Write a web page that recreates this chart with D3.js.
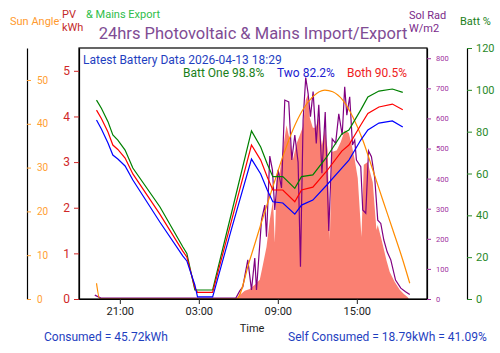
<!DOCTYPE html>
<html>
<head>
<meta charset="utf-8">
<script src="https://cdn.jsdelivr.net/npm/d3@7"></script>
<style>
  body { margin: 0; background: #fff; }
  svg { font-family: Roboto, "Noto Sans", sans-serif; }
</style>
</head>
<body>
<div id="chart-pv"></div>
<script>
// hours counted from 2026-04-12 00:00
var timeTicks = [21, 27, 33, 39];
var timeTickLabels = ["21:00", "03:00", "09:00", "15:00"];
var kwhTicks = [0, 1, 2, 3, 4, 5];
var sunTicks = [0, 10, 20, 30, 40, 50];
var solTicks = [0, 100, 200, 300, 400, 500, 600, 700, 800];
var battTicks = [0, 20, 40, 60, 80, 100, 120];

var battHours = [19.23, 19.6, 20.1, 20.47, 20.85, 21.4, 21.99, 24.04, 25.78, 26.09, 26.7, 26.9, 28.05, 29.5, 31.0,
  31.7, 32.2, 32.62, 33.38, 34.29, 34.8, 35.66, 36.72, 37.86, 38.4, 39.3, 39.84, 40.68, 41.7, 42.49];
var battOne = [95.1, 91.2, 84.8, 78.4, 76.0, 71.2, 62.6, 44.1, 25.0, 21.8, 4.3, 4.3, 4.3, 41.6, 80.4,
  72.7, 64.5, 58.5, 58.5, 52.9, 58.5, 59.3, 67.9, 78.9, 80.8, 90.4, 96.6, 99.4, 100.4, 98.8];
var battTwo = [85.6, 81.3, 74.6, 68.8, 66.9, 63.6, 56.9, 36.8, 20.6, 18.2, 6.7, 1.0, 1.0, 33.9, 66.9,
  59.8, 52.1, 46.5, 45.9, 40.6, 44.9, 47.3, 54.5, 62.6, 66.4, 76.0, 80.8, 84.1, 85.1, 82.2];
var battBoth = [90.3, 86.3, 79.8, 73.6, 71.5, 67.4, 59.8, 40.6, 22.9, 20.1, 5.3, 3.2, 3.2, 37.8, 73.6,
  66.4, 58.3, 52.1, 52.1, 46.5, 52.1, 53.5, 61.2, 70.7, 73.6, 83.2, 88.7, 91.8, 93.2, 90.5];

var sunHours = [19.23, 19.48, 29.86, 30.87, 31.86, 32.62, 33.38, 34.14, 34.9, 35.66, 36.57, 37.17, 37.93,
  38.69, 39.45, 40.21, 40.97, 41.73, 42.49, 43.02];
var sunAngle = [3.6, 0, 0, 8.9, 18.5, 25.6, 32.5, 38.6, 43.2, 46.2, 47.7, 47.3, 45.4,
  41.6, 36.3, 29.5, 22.6, 15.8, 8.9, 3.6];

var solHours = [19.10, 19.56, 29.81, 30.11, 30.34, 30.72, 31.0, 31.25, 31.38, 31.76, 32.01, 32.14, 32.39, 32.59,
  32.77, 33.02, 33.28, 33.53, 33.83, 34.06, 34.29, 34.54, 34.72, 34.92, 35.12, 35.30, 35.48, 35.68, 35.92, 36.11,
  36.35, 36.6, 36.87, 37.13, 37.39, 37.63, 37.89, 38.08, 38.24, 38.46, 38.67, 38.84, 38.97, 39.30, 39.45, 39.68,
  39.89, 40.11, 40.36, 40.59, 40.82, 41.05, 41.31, 41.58, 41.94, 42.34, 42.70, 43.02];
var solRad = [13, 3, 3, 27, 40, 130, 30, 136, 30, 262, 312, 207, 475, 429,
  296, 429, 369, 661, 655, 462, 545, 455, 107, 595, 736, 683, 606, 689, 517, 645,
  418, 621, 226, 532, 517, 615, 545, 705, 611, 672, 512, 528, 462, 440, 296, 285,
  492, 473, 402, 262, 251, 196, 156, 130, 63, 36, 24, 15];

var pvHours = [29.81, 30.11, 30.49, 30.87, 31.25, 31.63, 31.86, 32.14, 32.39, 32.64, 32.77, 32.92, 33.15, 33.38,
  33.66, 33.91, 34.14, 34.44, 34.67, 34.9, 35.12, 35.28, 35.43, 35.66, 35.88, 36.11, 36.34, 36.57, 36.79, 36.95,
  37.10, 37.48, 37.78, 38.08, 38.39, 38.62, 38.84, 39.07, 39.35, 39.53, 39.83, 40.06, 40.21, 40.49, 40.59, 40.89,
  41.25, 41.50, 41.88, 42.26, 42.57, 42.87, 42.95];
var pvKwh = [0, 0.09, 0.18, 0.22, 0.31, 0.42, 0.74, 1.14, 1.73, 2.17, 1.23, 2.61, 2.78, 3.26,
  3.81, 3.48, 3.05, 3.42, 3.59, 3.77, 4.36, 4.47, 3.97, 3.75, 3.75, 3.97, 3.37, 3.70, 3.26, 1.29,
  3.22, 3.26, 3.44, 3.70, 3.64, 3.37, 3.05, 2.65, 1.36, 2.94, 3.00, 2.72, 2.56, 1.51, 1.62, 1.29,
  0.85, 0.59, 0.37, 0.20, 0.11, 0.04, 0];

var width = 500, height = 353;
var margin = { top: 48, right: 73, bottom: 54, left: 79 };
var base = new Date(2026, 3, 12, 0, 0, 0).getTime();
function toDate(h) { return new Date(base + h * 3600000); }

var svg = d3.select("#chart-pv").append("svg")
  .attr("width", width)
  .attr("height", height);

var x = d3.scaleTime()
  .domain([toDate(17.9), toDate(44.33)])
  .range([margin.left, width - margin.right]);
var y0 = height - margin.bottom, y1 = margin.top;
var yKwh = d3.scaleLinear().domain([0, 5.5]).range([y0, y1]);
var ySun = d3.scaleLinear().domain([0, 57.3]).range([y0, y1]);
var ySol = d3.scaleLinear().domain([0, 834]).range([y0, y1]);
var yBatt = d3.scaleLinear().domain([0, 120]).range([y0, y1]);

function pairs(hs, vs) { return hs.map(function(h, i) { return [toDate(h), vs[i]]; }); }

// PV area
svg.append("path")
  .datum(pairs(pvHours, pvKwh))
  .attr("fill", "salmon")
  .attr("d", d3.area().x(function(d) { return x(d[0]); }).y0(y0).y1(function(d) { return yKwh(d[1]); }));

function drawLine(data, scale, color, curve) {
  svg.append("path")
    .datum(data)
    .attr("fill", "none")
    .attr("stroke", color)
    .attr("stroke-width", 1.2)
    .attr("d", d3.line().curve(curve || d3.curveLinear)
      .x(function(d) { return x(d[0]); })
      .y(function(d) { return scale(d[1]); }));
}

drawLine(pairs(solHours, solRad), ySol, "purple");
drawLine(pairs(sunHours, sunAngle), ySun, "darkorange", d3.curveMonotoneX);
drawLine(pairs(battHours, battOne), yBatt, "green");
drawLine(pairs(battHours, battBoth), yBatt, "red");
drawLine(pairs(battHours, battTwo), yBatt, "blue");

// plot frame
svg.append("rect")
  .attr("x", margin.left).attr("y", margin.top)
  .attr("width", width - margin.left - margin.right)
  .attr("height", height - margin.top - margin.bottom)
  .attr("fill", "none").attr("stroke", "#000").attr("stroke-width", 1.2);

function styleAxis(g, color, size) {
  g.select(".domain").attr("stroke", "#000").attr("stroke-width", 1.2);
  g.selectAll(".tick line").attr("stroke", color);
  g.selectAll(".tick text").attr("fill", color).style("font-size", size + "px")
    .style("font-family", "Roboto, sans-serif");
}

// time axis
svg.append("g")
  .attr("transform", "translate(0," + y0 + ")")
  .call(d3.axisBottom(x).tickValues(timeTicks.map(toDate)).tickSize(5).tickSizeOuter(0)
    .tickFormat(function(d, i) { return timeTickLabels[i]; }))
  .call(styleAxis, "#222", 11);

// kWh axis
svg.append("g")
  .attr("transform", "translate(" + margin.left + ",0)")
  .call(d3.axisLeft(yKwh).tickValues(kwhTicks).tickFormat(d3.format("d"))
    .tickSize(5).tickSizeOuter(0).tickPadding(4))
  .call(styleAxis, "#d02828", 12);

// sun angle axis
svg.append("g")
  .attr("transform", "translate(27,0)")
  .call(d3.axisRight(ySun).tickValues(sunTicks).tickSize(4).tickSizeOuter(0).tickPadding(6))
  .call(styleAxis, "#ffa033", 10);

// solar radiation axis
svg.append("g")
  .attr("transform", "translate(" + (width - margin.right) + ",0)")
  .call(d3.axisRight(ySol).tickValues(solTicks).tickSize(4).tickSizeOuter(0).tickPadding(5))
  .call(styleAxis, "#a030a0", 7.5);

// battery axis
svg.append("g")
  .attr("transform", "translate(467,0)")
  .call(d3.axisRight(yBatt).tickValues(battTicks).tickSize(5).tickSizeOuter(0).tickPadding(4))
  .call(styleAxis, "#2a8a2a", 11);

function label(txt, px, py, color, size, anchor) {
  svg.append("text")
    .attr("x", px).attr("y", py)
    .attr("fill", color)
    .attr("text-anchor", anchor || "start")
    .style("font-size", size + "px")
    .text(txt);
}

label("Sun Angle", 10, 25, "#ff9a2e", 11);
label("·", 59, 24, "#ff9a2e", 11);
label("PV", 62, 18, "#c42a2a", 11);
label("kWh", 62, 31, "#c42a2a", 11);
label("& Mains Export", 86, 18, "#2ebd4a", 11);
label("24hrs Photovoltaic & Mains Import/Export", 253, 39, "#804c94", 16.5, "middle");
label("Sol Rad", 409, 19, "#7a2a8a", 11);
label("W/m2", 409, 32, "#7a2a8a", 11);
label("Batt %", 460, 25, "#1a801a", 11);

label("Latest Battery Data 2026-04-13 18:29", 83, 64, "#1f3fbf", 12);
label("Batt One 98.8%", 183, 76.5, "#1a801a", 12);
label("Two 82.2%", 277, 76.5, "#2020d0", 12);
label("Both 90.5%", 347, 76.5, "#ee2020", 12);

label("Time", 252, 332, "#222", 11, "middle");
label("Consumed = 45.72kWh", 44, 341, "#1f3fbf", 12);
label("Self Consumed = 18.79kWh  = 41.09%", 288, 341, "#1f3fbf", 12);
</script>
</body>
</html>
